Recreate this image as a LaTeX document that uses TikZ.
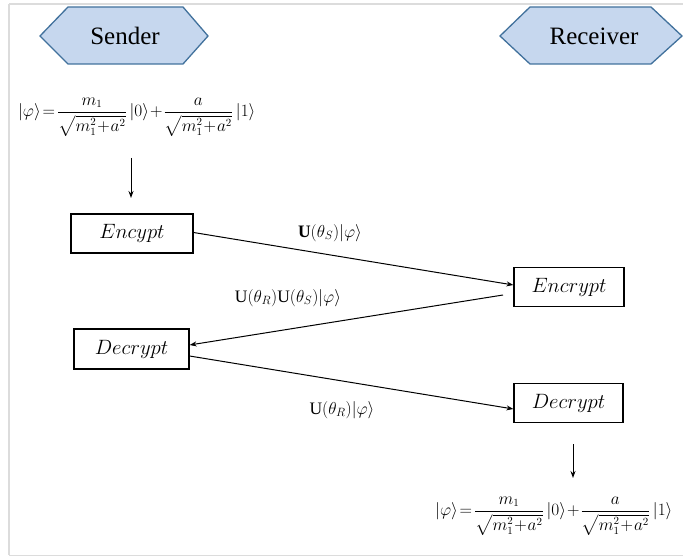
\documentclass[tikz,border=0pt]{standalone}
\usepackage{fontspec}
\setmainfont{Liberation Serif}
\usepackage{amsmath}
\usetikzlibrary{arrows.meta}
\definecolor{hexfill}{HTML}{C6D7EE}
\definecolor{hexdraw}{HTML}{41719C}
\definecolor{frame}{HTML}{DCDCDC}
\tikzset{
  hexa/.style={fill=hexfill,draw=hexdraw,line width=1.3pt,line join=miter},
  procbox/.style={draw=black,line width=1.2pt,inner sep=0pt,font=\fontsize{22}{26}\selectfont},
  flow/.style={draw=black,line width=1pt,-{Stealth[length=7pt,width=5pt]}},
  lbl/.style={font=\fontsize{17.5}{20}\selectfont,inner sep=0pt},
  formula/.style={font=\fontsize{16}{19}\selectfont,inner sep=0pt},
  hextext/.style={font=\fontsize{25}{29}\selectfont,inner sep=0pt}
}
\newcommand{\psistate}{$|\varphi\rangle\!=\!\dfrac{m_1}{\sqrt{m_1^2\!+\!a^2}}\,|0\rangle\!+\!\dfrac{a}{\sqrt{m_1^2\!+\!a^2}}\,|1\rangle$}
\begin{document}
\begin{tikzpicture}[x=1pt,y=-1pt]
\useasboundingbox (0,0) rectangle (683,556);
% frame lines
\draw[frame,line width=1.5pt] (9,4) -- (683,4);
\draw[frame,line width=2pt] (9,4) -- (9,555);
\draw[frame,line width=0.8pt] (9,555) -- (683,555);
% hexagons
\draw[hexa] (40,36) -- (68,7) -- (183,7) -- (208,36) -- (183,64) -- (68,64) -- cycle;
\node[hextext] (sender) at (125,36) {Sender};
\draw[hexa] (500,36) -- (530,7) -- (651,7) -- (682,36) -- (651,64) -- (530,64) -- cycle;
\node[hextext] (receiver) at (594,36) {Receiver};
% formulas
\node[formula,anchor=west] (f1) at (18,117) {\psistate};
\node[formula,anchor=west] (f2) at (435,516) {\psistate};
% boxes
\node[procbox,minimum width=122pt,minimum height=39pt] (encS) at (132,233.5) {$Encypt$};
\node[procbox,minimum width=110pt,minimum height=39pt] (encR) at (569,287) {$Encrypt$};
\node[procbox,minimum width=115pt,minimum height=40pt] (decS) at (131.5,349) {$Decrypt$};
\node[procbox,minimum width=109pt,minimum height=39pt] (decR) at (568.5,403) {$Decrypt$};
% vertical arrows
\coordinate (a1s) at (131,158);
\coordinate (a1e) at (131,198);
\draw[flow] (a1s) -- (a1e);
\coordinate (a2s) at (573,444);
\coordinate (a2e) at (573,478);
\draw[flow] (a2s) -- (a2e);
% diagonal arrows
\draw[flow] ([yshift=1pt]encS.east) -- ([yshift=2pt]encR.west);
\coordinate (rs) at (503,295);
\draw[flow] (rs) -- ([yshift=4pt]decS.east);
\draw[flow] ([yshift=-7pt]decS.east) -- ([yshift=-6pt]decR.west);
% labels
\node[lbl] (l1) at (330,233) {$\mathbf{U}(\theta_S)|\varphi\rangle$};
\node[lbl] (l2) at (288,298) {$\mathrm{U}(\theta_R)\mathrm{U}(\theta_S)|\varphi\rangle$};
\node[lbl] (l3) at (342,410) {$\mathrm{U}(\theta_R)|\varphi\rangle$};
\end{tikzpicture}
\end{document}
